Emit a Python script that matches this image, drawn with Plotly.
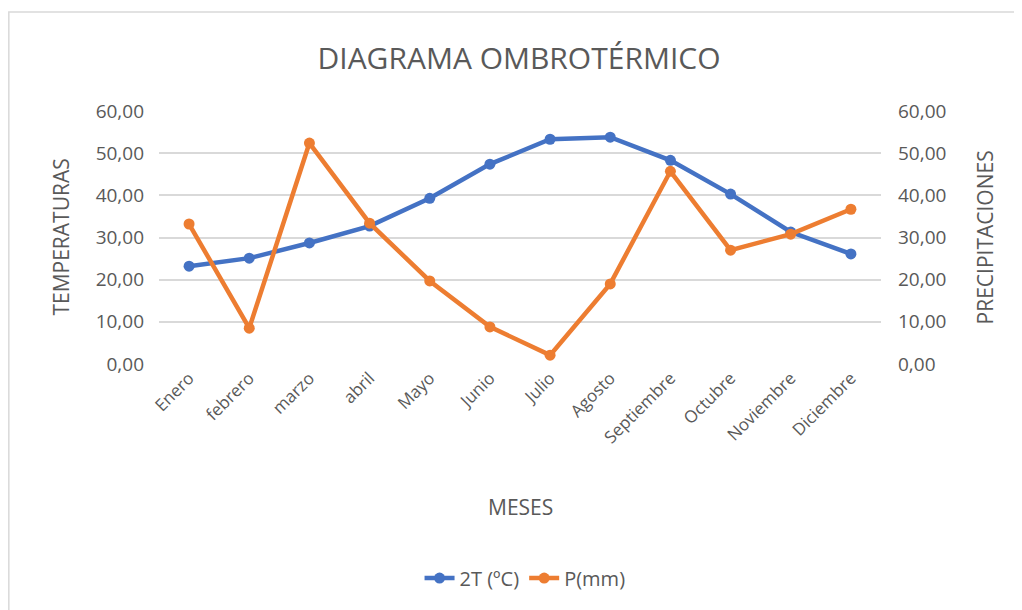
import plotly.graph_objects as go

meses = ["Enero", "febrero", "marzo", "abril", "Mayo", "Junio", "Julio",
         "Agosto", "Septiembre", "Octubre", "Noviembre", "Diciembre"]
temp_2t = [23.2, 25.1, 28.7, 32.7, 39.3, 47.4, 53.3, 53.8, 48.3, 40.3, 31.3, 26.1]
precip = [33.2, 8.5, 52.4, 33.4, 19.7, 8.8, 2.1, 19.0, 45.7, 27.0, 30.8, 36.7]
y_ticks = [0, 10, 20, 30, 40, 50, 60]
y_labels = ["0,00", "10,00", "20,00", "30,00", "40,00", "50,00", "60,00"]

FONT = "Open Sans"
GREY = "#595959"

fig = go.Figure()
fig.add_trace(go.Scatter(
    x=meses, y=temp_2t, name="2T (ºC)", mode="lines+markers",
    line=dict(color="#4472C4", width=4.5), marker=dict(size=11, color="#4472C4")
))
fig.add_trace(go.Scatter(
    x=meses, y=precip, name="P(mm)", mode="lines+markers", yaxis="y2",
    line=dict(color="#ED7D31", width=4.5), marker=dict(size=11, color="#ED7D31")
))

fig.update_layout(
    width=1022, height=610,
    paper_bgcolor="white", plot_bgcolor="white",
    margin=dict(l=151, r=149, t=103, b=254),
    font=dict(family=FONT, color=GREY, size=18),
    title=dict(text="DIAGRAMA OMBROTÉRMICO", x=0.5, xanchor="center",
               y=0.918, yanchor="middle", font=dict(size=30, color=GREY)),
    xaxis=dict(tickangle=-45, showgrid=False, showline=False, ticks="",
               range=[-0.5, len(meses) - 0.5],
               automargin=False, tickfont=dict(size=17)),
    yaxis=dict(range=[0, 60], tickvals=y_ticks, ticktext=y_labels,
               gridcolor="#D9D9D9", gridwidth=1.5, zeroline=False,
               ticks="", automargin=False, ticklabelstandoff=14,
               tickfont=dict(size=19)),
    yaxis2=dict(range=[0, 60], tickvals=y_ticks, ticktext=y_labels,
                overlaying="y", side="right", showgrid=False, zeroline=False,
                ticks="", automargin=False, ticklabelstandoff=16,
                tickfont=dict(size=19)),
    legend=dict(orientation="h", x=0.507, xanchor="center", y=-0.846, yanchor="middle",
                font=dict(size=20)),
    showlegend=True,
)

# axis titles as annotations for exact placement
fig.add_annotation(text="MESES", xref="paper", yref="paper", x=0.5, y=-0.565,
                   xanchor="center", yanchor="middle",
                   showarrow=False, font=dict(size=21, color=GREY))
fig.add_annotation(text="TEMPERATURAS", xref="paper", yref="paper", x=-0.137, y=0.5,
                   xanchor="center", yanchor="middle",
                   textangle=-90, showarrow=False, font=dict(size=21, color=GREY))
fig.add_annotation(text="PRECIPITACIONES", xref="paper", yref="paper", x=1.144, y=0.5,
                   xanchor="center", yanchor="middle",
                   textangle=-90, showarrow=False, font=dict(size=21, color=GREY))

fig.add_shape(type="rect", xref="paper", yref="paper",
              x0=-0.208, x1=1.4, y0=-1.2, y1=1.391,
              line=dict(color="#D9D9D9", width=1.5))

fig.write_html("out.html")
